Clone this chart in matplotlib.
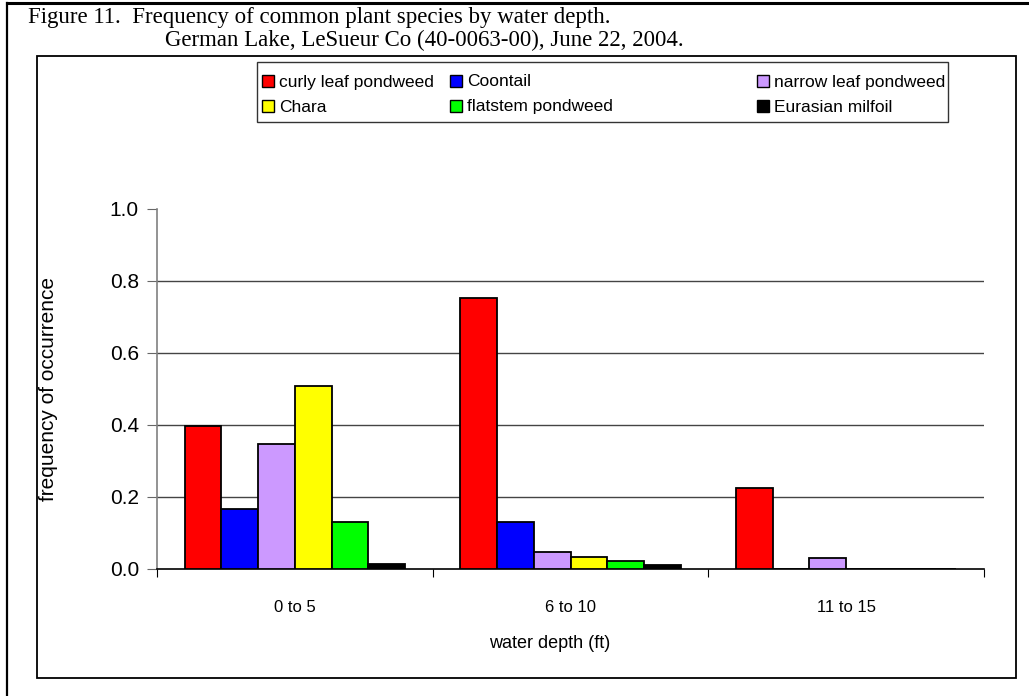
import numpy as np
import matplotlib
matplotlib.use("Agg")
import matplotlib.pyplot as plt
from matplotlib.patches import Rectangle
from matplotlib.lines import Line2D

# --- data ---
depths = ["0 to 5", "6 to 10", "11 to 15"]
species = ["curly leaf pondweed", "Coontail", "narrow leaf pondweed",
           "Chara", "flatstem pondweed", "Eurasian milfoil"]
curly = [0.396, 0.752, 0.225]
coontail = [0.167, 0.131, 0.0]
narrow = [0.348, 0.048, 0.030]
chara = [0.508, 0.034, 0.0]
flatstem = [0.131, 0.023, 0.0]
milfoil = [0.015, 0.011, 0.0]
colors = ["#ff0000", "#0000ff", "#cc99ff", "#ffff00", "#00ff00", "#000000"]
yticks = [0.0, 0.2, 0.4, 0.6, 0.8, 1.0]

W, H = 1029, 696
fig = plt.figure(figsize=(W / 100, H / 100), dpi=100)
sans = "Liberation Sans"
serif = "Liberation Serif"

def fx(px):
    return px / W

def fy(py):
    return 1 - py / H

# page border (left + top) and the chart box
fig.add_artist(Line2D([fx(7), fx(7)], [fy(2.5), 0], color="black", lw=1.6))
fig.add_artist(Line2D([fx(7), 1], [fy(2.5), fy(2.5)], color="black", lw=2.2))
fig.add_artist(Rectangle((fx(37), fy(678)), fx(1016) - fx(37), fy(56) - fy(678),
                         transform=fig.transFigure, fill=False, ec="black", lw=1.3))

fig.text(fx(28), fy(17), "Figure 11.  Frequency of common plant species by water depth.",
         family=serif, fontsize=16.5, va="center", ha="left")
fig.text(fx(165), fy(40), "German Lake, LeSueur Co (40-0063-00), June 22, 2004.",
         family=serif, fontsize=16.5, va="center", ha="left")

ax = fig.add_axes([fx(157), fy(569), fx(984) - fx(157), fy(209) - fy(569)])

series = [curly, coontail, narrow, chara, flatstem, milfoil]
n = len(series)
bw = 1 / (n + 1.5)
x = np.arange(len(depths)) + 0.5
for i, (vals, c) in enumerate(zip(series, colors)):
    off = (i - (n - 1) / 2) * bw
    ax.bar(x + off, vals, width=bw, color=c, edgecolor="black", linewidth=1.3,
           label=species[i], zorder=3)

for t in yticks[1:-1]:
    ax.axhline(t, color="#444444", lw=1, zorder=1)

ax.set_xlim(0, len(depths))
ax.set_ylim(0, 1.0)
ax.set_yticks(yticks)
ax.set_yticklabels([f"{t:.1f}" for t in yticks], fontsize=15, family=sans)
ax.set_xticks(np.arange(len(depths) + 1))
ax.set_xticklabels([])
ax.set_xticks(x, minor=True)
ax.set_xticklabels(depths, minor=True, fontsize=12, family=sans)
ax.tick_params(axis="x", which="minor", length=0, pad=22)
ax.tick_params(axis="x", which="major", length=6, direction="out", color="black")
ax.tick_params(axis="y", length=7, direction="out", color="#666666", pad=6)
for s in ["top", "right"]:
    ax.spines[s].set_visible(False)
ax.spines["left"].set_color("#808080")
ax.spines["left"].set_linewidth(1.2)
ax.spines["bottom"].set_linewidth(1.2)
ax.set_ylabel("frequency of occurrence", fontsize=15, family=sans)
ax.yaxis.set_label_coords((49 - 157) / (984 - 157), 0.5)
ax.set_xlabel("water depth (ft)", fontsize=13, family=sans)
ax.xaxis.set_label_coords((550 - 157) / (984 - 157), -(644 - 569) / (569 - 209))
ax.xaxis.label.set_va("center")
ax.yaxis.label.set_va("center")

# legend box drawn by hand: Excel spaces its columns unevenly
fig.add_artist(Rectangle((fx(257), fy(122)), fx(948) - fx(257), fy(62) - fy(122),
                         transform=fig.transFigure, fill=True, fc="white",
                         ec="#333333", lw=1.0))
col_x = [262, 450, 757]
row_y = [81, 106]
sq = 12
for i, (name, c) in enumerate(zip(species, colors)):
    px = col_x[i % 3]
    py = row_y[i // 3]
    fig.add_artist(Rectangle((fx(px), fy(py + sq / 2)), fx(sq), fy(0) - fy(sq),
                             transform=fig.transFigure, fc=c, ec="black", lw=1.0))
    fig.text(fx(px + sq + 5), fy(py + 5.5), name, family=sans, fontsize=12.5,
             va="baseline", ha="left")

fig.savefig("out.png", dpi=100)
